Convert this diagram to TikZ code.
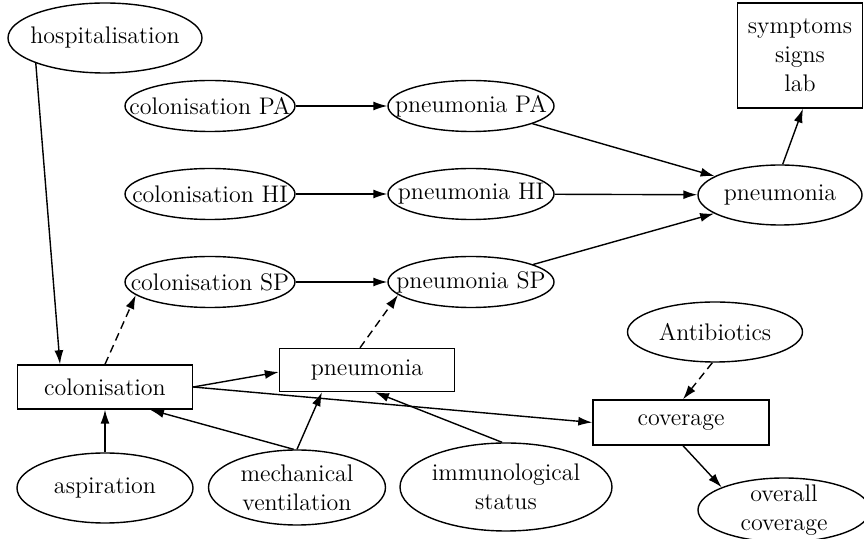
\documentclass[tikz,border=0pt]{standalone}
\usetikzlibrary{shapes.geometric,arrows.meta,calc}
\begin{document}
\begin{tikzpicture}[x=0.5pt,y=-0.5pt,
  every node/.style={font=\fontsize{12}{14.5}\selectfont, inner sep=0pt, line width=0.7pt},
  ell/.style 2 args={draw, ellipse, minimum width=#1, minimum height=#2},
  txt/.style={align=center},
  boxn/.style={draw, rectangle, align=center},
  arr/.style={-{Latex[length=7pt,width=4.5pt]}, line width=0.7pt},
  darr/.style={arr, dash pattern=on 4pt off 2.5pt}]
\useasboundingbox (0,0) rectangle (864,539);
% ellipse nodes (shape) and their texts
\node[ell={97pt}{35pt}] (hosp) at (105,38) {};
\node[txt] (hosp-t) at (hosp) {hospitalisation};
\node[ell={85pt}{25.5pt}] (cpa) at (210,106) {};
\node[txt] (cpa-t) at (cpa) {colonisation PA};
\node[ell={83pt}{25.5pt}] (ppa) at (471,106) {};
\node[txt] (ppa-t) at (ppa) {pneumonia PA};
\node[ell={85pt}{25.5pt}] (chi) at (210,194) {};
\node[txt] (chi-t) at (chi) {colonisation HI};
\node[ell={83pt}{25.5pt}] (phi) at (471,194) {};
\node[txt] (phi-t) at (phi) {pneumonia HI};
\node[ell={85pt}{25.5pt}] (csp) at (210,282) {};
\node[txt] (csp-t) at (csp) {colonisation SP};
\node[ell={83pt}{25.5pt}] (psp) at (471,282) {};
\node[txt] (psp-t) at (psp) {pneumonia SP};
\node[ell={82pt}{30pt}] (pn) at (780,195) {};
\node[txt] (pn-t) at (pn) {pneumonia};
\node[ell={87.5pt}{30pt}] (anti) at (715,332) {};
\node[txt] (anti-t) at (anti) {Antibiotics};
\node[ell={88pt}{35pt}] (asp) at (105,488) {};
\node[txt] (asp-t) at (asp) {aspiration};
\node[ell={88.5pt}{37.5pt}] (mv) at (297,487.5) {};
\node[txt] (mv-t) at (mv) {mechanical\\ventilation};
\node[ell={106pt}{44pt}] (imm) at (506,487) {};
\node[txt] (imm-t) at (imm) {immunological\\status};
\node[ell={86pt}{32pt}] (ovc) at (784,510) {};
\node[txt] (ovc-t) at (ovc) {overall\\coverage};
% boxes
\node[boxn, minimum width=62.5pt, minimum height=52.5pt] (sym) at (800,55.5) {symptoms\\signs\\lab};
\node[boxn, minimum width=87.5pt, minimum height=22pt] (col) at (105,387) {colonisation};
\node[boxn, minimum width=87.5pt, minimum height=21.5pt] (pnb) at (367,370) {pneumonia};
\node[boxn, minimum width=88pt, minimum height=22.5pt] (cov) at (681,422.5) {coverage};
% edges
\draw[arr] (hosp.200) -- ($(col.north)+(-45,0)$);
\draw[arr] (cpa) -- (ppa);
\draw[arr] (chi) -- (phi);
\draw[arr] (csp) -- (psp);
\draw[arr] (ppa) -- (pn);
\draw[arr] (phi) -- (pn);
\draw[arr] (psp) -- (pn);
\draw[arr] (pn.85) -- ($(sym.south)+(3,0)$);
\draw[darr] (col.north) -- (csp.190);
\draw[darr] ($(pnb.north)+(-7,0)$) -- (psp.190);
\draw[arr] (col.east) -- ($(pnb.west)+(0,2)$);
\draw[arr] (col.east) -- (cov.west);
\draw[arr] (asp.north) -- (col.south);
\draw[arr] (mv.95) -- ($(col.south)+(45,0)$);
\draw[arr] (mv.north) -- ($(pnb.south)+(-45,0)$);
\draw[arr] (imm.95) -- ($(pnb.south)+(8,0)$);
\draw[darr] (anti.265) -- ($(cov.north)+(2,0)$);
\draw[arr] ($(cov.south)+(2,0)$) -- (ovc.160);
\end{tikzpicture}
\end{document}
